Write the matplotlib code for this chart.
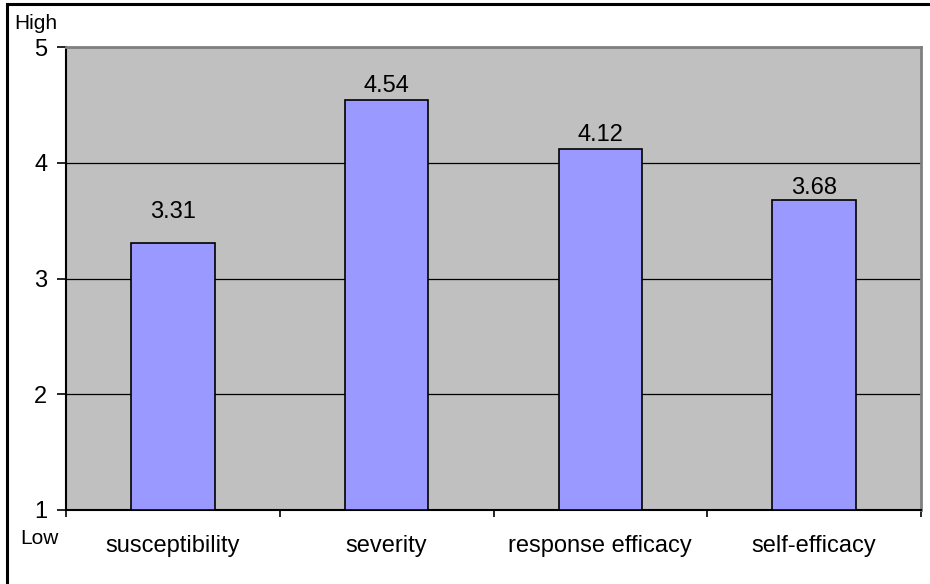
import matplotlib
matplotlib.use("Agg")
import matplotlib.pyplot as plt
from matplotlib.patches import Rectangle

categories = ["susceptibility", "severity", "response efficacy", "self-efficacy"]
values = [3.31, 4.54, 4.12, 3.68]
y_ticks = [1, 2, 3, 4, 5]
label_offsets = [17.5, 6, 6, 4]  # points between bar top and label baseline

plt.rcParams["font.family"] = ["Liberation Sans", "DejaVu Sans"]

W, H = 930, 584
fig = plt.figure(figsize=(W / 100, H / 100), dpi=100)

# outer frame
fig.patches.append(Rectangle((7 / W, -0.1), 1.2, 1 - 4 / H + 0.1,
                             transform=fig.transFigure, fill=False,
                             edgecolor="black", linewidth=2.2, zorder=0))

left, right, top, bottom = 66, 921, 47, 510
ax = fig.add_axes([left / W, 1 - bottom / H, (right - left) / W, (bottom - top) / H])
ax.set_facecolor("#C0C0C0")

x = list(range(len(categories)))
ax.bar(x, [v - 1 for v in values], bottom=1, width=0.39,
       color="#9999FF", edgecolor="black", linewidth=1.2, zorder=3)

for xi, v, off in zip(x, values, label_offsets):
    ax.annotate(f"{v:.2f}", (xi, v), xytext=(0, off), textcoords="offset points",
                ha="center", va="baseline", fontsize=17, color="black", zorder=4)

ax.set_xlim(-0.5, len(categories) - 0.5)
ax.set_ylim(1, 5)
ax.set_yticks(y_ticks)
ax.set_yticklabels([str(t) for t in y_ticks], fontsize=17)
ax.yaxis.grid(True, color="black", linewidth=0.9, zorder=1)
ax.set_axisbelow(True)

ax.set_xticks([i + 0.5 for i in range(-1, len(categories))])
ax.set_xticklabels([])
ax.set_xticks(x, minor=True)
ax.set_xticklabels(categories, minor=True, fontsize=17)
ax.tick_params(axis="x", which="major", length=5, width=1.2, direction="out")
ax.tick_params(axis="x", which="minor", length=0, pad=18)
ax.tick_params(axis="y", length=6.5, width=1.2, pad=7)

for s in ("left", "bottom"):
    ax.spines[s].set_color("black")
    ax.spines[s].set_linewidth(1.5)
for s in ("top", "right"):
    ax.spines[s].set_color("#808080")
    ax.spines[s].set_linewidth(2)

fig.text(14 / W, 1 - 29 / H, "High", fontsize=15, ha="left", va="baseline")
fig.text(20 / W, 1 - 544 / H, "Low", fontsize=15, ha="left", va="baseline")

fig.savefig("out.png", dpi=100)
